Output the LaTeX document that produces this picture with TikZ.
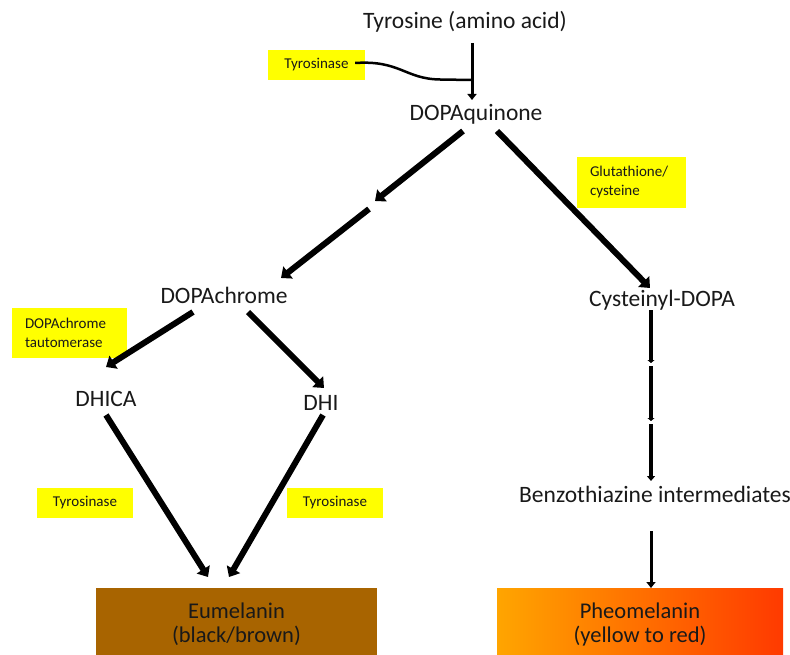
\documentclass[tikz,border=0pt]{standalone}
\usepackage{fontspec}
\setmainfont{Carlito}
\usetikzlibrary{arrows.meta}
\definecolor{hl}{HTML}{FFFF00}
\definecolor{eubrown}{HTML}{A86400}
\definecolor{pheoL}{HTML}{FFA500}
\definecolor{pheoR}{HTML}{FF3A00}
\begin{document}
\begin{tikzpicture}[x=1pt,y=-1pt,
  lbl/.style={inner sep=0pt,font=\fontsize{23.5}{26}\selectfont,text=black!90},
  enz/.style={fill=hl,inner sep=0pt,font=\fontsize{15}{19}\selectfont,text=black!90},
  thick arrow/.style={line width=6pt,-{Triangle[length=9pt,width=15pt]}},
  thin arrow/.style={line width=3pt,-{Triangle[length=6pt,width=9pt]}}]
\useasboundingbox (0,0) rectangle (790,655);
% main labels
\node[lbl] (tyr) at (465,22) {Tyrosine (amino acid)};
\node[lbl] (dq) at (476,114) {DOPAquinone};
\node[lbl] (dc) at (224,295) {DOPAchrome};
\node[lbl] (cd) at (662,300) {Cysteinyl-DOPA};
\node[lbl] (dhica) at (106,399) {DHICA};
\node[lbl] (dhi) at (321,403) {DHI};
\node[lbl] (bz) at (655,494) {Benzothiazine intermediates};
% enzyme boxes
\node[enz,minimum width=97pt,minimum height=30pt] (t1) at (316.5,65) {Tyrosinase};
\node[enz,minimum width=109pt,minimum height=51pt,text width=83pt,align=left] (gc) at (631.5,182.5) {Glutathione/\\cysteine};
\node[enz,minimum width=115pt,minimum height=50pt,text width=89pt,align=left] (dt) at (69.5,333) {DOPAchrome\\tautomerase};
\node[enz,minimum width=96pt,minimum height=30pt] (t2) at (85,503) {Tyrosinase};
\node[enz,minimum width=96pt,minimum height=30pt] (t3) at (335,503) {Tyrosinase};
% product boxes
\fill[eubrown] (96,588) rectangle (377,655);
\shade[left color=pheoL,right color=pheoR] (497,588) rectangle (783,655);
\node[lbl,align=center,font=\fontsize{22.5}{24}\selectfont] (eu) at (236.5,624) {Eumelanin\\(black/brown)};
\node[lbl,align=center,font=\fontsize{22.5}{24}\selectfont] (pheo) at (640,624) {Pheomelanin\\(yellow to red)};
% coordinates
\coordinate (a0) at (472,43);
\coordinate (a1) at (472,100);
\coordinate (aj) at (472,80);
\coordinate (b0) at (463,131);
\coordinate (b1) at (375,201);
\coordinate (b2) at (369,209);
\coordinate (b3) at (281,278);
\coordinate (c0) at (497,131);
\coordinate (c1) at (650,288);
\coordinate (d0) at (193,312);
\coordinate (d1) at (106,367);
\coordinate (e0) at (248,312);
\coordinate (e1) at (324,388);
\coordinate (f0) at (106,415);
\coordinate (f1) at (208,577);
\coordinate (g0) at (323,415);
\coordinate (g1) at (229,577);
\coordinate (h0) at (651,310);
\coordinate (h1) at (651,363);
\coordinate (h2) at (651,366);
\coordinate (h3) at (651,421);
\coordinate (h4) at (651,424);
\coordinate (h5) at (651,481);
\coordinate (k0) at (651,531);
\coordinate (k1) at (651,588);
% connectors
\draw[line width=3pt,-{Triangle[length=6pt,width=9pt]}] (a0) -- (a1);
\draw[line width=2.5pt] (t1.east) ++(-10,-2) .. controls (400,60) and (405,79) .. (440,79.5) -- (aj);
\draw[thick arrow] (b0) -- (b1);
\draw[thick arrow] (b2) -- (b3);
\draw[thick arrow] (c0) -- (c1);
\draw[thick arrow] (d0) -- (d1);
\draw[thick arrow] (e0) -- (e1);
\draw[thick arrow] (f0) -- (f1);
\draw[thick arrow] (g0) -- (g1);
\draw[line width=4pt,-{Triangle[length=3pt,width=7pt]}] (h0) -- (h1);
\draw[line width=4pt,-{Triangle[length=3pt,width=7pt]}] (h2) -- (h3);
\draw[line width=4pt,-{Triangle[length=5pt,width=8pt]}] (h4) -- (h5);
\draw[thin arrow] (k0) -- (k1);
\end{tikzpicture}
\end{document}
